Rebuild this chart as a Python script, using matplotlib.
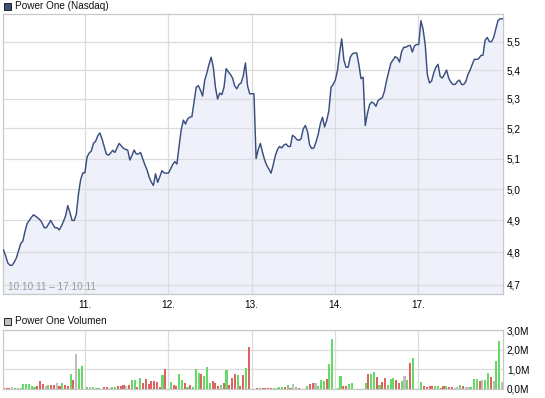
import numpy as np
import matplotlib
matplotlib.use("Agg")
import matplotlib.pyplot as plt
from matplotlib.patches import Rectangle
from matplotlib.ticker import FixedLocator, FuncFormatter, NullLocator

# ---------------- data ----------------
title_price = "Power One (Nasdaq)"
title_volume = "Power One Volumen"
date_range = "10.10.11 – 17.10.11"
day_labels = ["11.", "12.", "13.", "14.", "17."]
price_ticks = [4.7, 4.8, 4.9, 5.0, 5.1, 5.2, 5.3, 5.4, 5.5]
volume_ticks = [0, 1, 2, 3]  # millions

price_day1 = [4.807, 4.788, 4.767, 4.760, 4.760, 4.770, 4.783, 4.805, 4.827, 4.835,
              4.865, 4.890, 4.900, 4.910, 4.918, 4.913, 4.908, 4.902, 4.892, 4.877,
              4.877, 4.888, 4.900, 4.888, 4.877, 4.877, 4.870, 4.882, 4.897, 4.915,
              4.947, 4.925, 4.900, 4.900, 4.920, 4.985, 5.030, 5.053, 5.053]
price_day2 = [5.105, 5.118, 5.125, 5.150, 5.157, 5.175, 5.185, 5.165, 5.140, 5.115,
              5.111, 5.118, 5.127, 5.120, 5.135, 5.150, 5.142, 5.134, 5.130, 5.128,
              5.095, 5.110, 5.128, 5.115, 5.115, 5.120, 5.100, 5.080, 5.063, 5.040,
              5.023, 5.012, 5.050, 5.022, 5.040, 5.060, 5.053, 5.052, 5.052]
price_day3 = [5.065, 5.080, 5.090, 5.082, 5.140, 5.195, 5.228, 5.215, 5.232, 5.238,
              5.240, 5.290, 5.340, 5.346, 5.330, 5.310, 5.365, 5.390, 5.420, 5.445,
              5.410, 5.340, 5.300, 5.320, 5.315, 5.340, 5.405, 5.394, 5.385, 5.372,
              5.345, 5.335, 5.350, 5.355, 5.380, 5.425, 5.345, 5.318, 5.318]
price_day4 = [5.318, 5.100, 5.130, 5.150, 5.120, 5.095, 5.077, 5.065, 5.052, 5.080,
              5.110, 5.130, 5.140, 5.135, 5.145, 5.148, 5.140, 5.140, 5.177, 5.172,
              5.163, 5.160, 5.165, 5.198, 5.210, 5.190, 5.145, 5.133, 5.135, 5.155,
              5.180, 5.215, 5.238, 5.205, 5.227, 5.260, 5.340, 5.350, 5.365]
price_day5 = [5.398, 5.460, 5.510, 5.435, 5.410, 5.410, 5.445, 5.457, 5.460, 5.460,
              5.420, 5.370, 5.375, 5.210, 5.250, 5.280, 5.290, 5.285, 5.275, 5.295,
              5.300, 5.305, 5.328, 5.365, 5.395, 5.425, 5.435, 5.447, 5.442, 5.428,
              5.465, 5.480, 5.480, 5.485, 5.487, 5.463, 5.485, 5.490, 5.490]
price_day6 = [5.575, 5.545, 5.490, 5.385, 5.355, 5.362, 5.390, 5.410, 5.420, 5.378,
              5.372, 5.385, 5.400, 5.372, 5.358, 5.350, 5.350, 5.360, 5.365, 5.350,
              5.350, 5.360, 5.385, 5.400, 5.420, 5.438, 5.437, 5.440, 5.451, 5.452,
              5.505, 5.515, 5.500, 5.500, 5.515, 5.545, 5.575, 5.582, 5.582]

# volume in millions, direction: g = up, r = down, n = unchanged
vol_day1 = [.07, .07, .07, .10, .06, .06, .06, .25, .25, .25, .15, .12, .15, .42, .25,
            .15, .20, .20, .20, .30, .15, .30, .18, .15, .75, .45, 1.78, 1.00, 1.15, 0]
dir_day1 = "rrrngggggg" "ggrrrngrrn" "rgrrgrnggn"
vol_day2 = [.12, .12, .12, .06, .06, 0, .10, .10, .05, .10, .10, .13, .17, .20, .15,
            .20, .45, .45, .10, .55, .30, .50, .25, .40, .40, .35, .12, .70, 1.00, 0]
dir_day2 = "gngggnrrng" "grrrnrggrg" "rrrrrrrgrn"
vol_day3 = [.35, .20, .15, .75, .45, .30, .12, .20, .10, 1.00, .80, .75, .65, 1.10, .30,
            .40, .30, .15, .20, .30, .95, .20, .55, .75, .70, .15, .70, 1.05, 2.15, 0]
dir_day3 = "grrggrgrgg" "grgggrrrgr" "grrrgrrgrn"
vol_day4 = [0, .05, .05, .05, .05, .05, .05, .05, .05, .10, .10, .10, .20, .05, .25,
            .10, .05, 0, 0, .15, .25, .30, .30, .15, .45, .40, .50, 1.26, 2.53, 0]
dir_day4 = "nrgrrrrggg" "grgrngrnng" "rrngggrggn"
vol_day5 = [.05, .65, .15, .15, .25, .30, 0, 0, 0, 0, .30, .75, .75, .88, .60,
            .20, .35, .55, .18, .50, .55, .45, .30, .40, .65, .45, 1.30, 1.58, 0, 0]
dir_day5 = "ggrrggnnnn" "grggrgrrgg" "grrgngrgnn"
vol_day6 = [.35, .15, .10, .15, .15, .15, .15, .05, .15, .15, .10, .10, .05, .10, .20,
            .15, .10, .10, .10, .50, .50, .40, .45, .45, .80, .60, .40, 1.40, 2.45, .35]
dir_day6 = "grrrrggrrg" "rrnngrnngg" "grnggrnggn"

# ---------------- assemble ----------------
price = np.array(price_day1 + price_day2 + price_day3 + price_day4 + price_day5 + price_day6)
vols = np.array(vol_day1 + vol_day2 + vol_day3 + vol_day4 + vol_day5 + vol_day6)
dirs = dir_day1 + dir_day2 + dir_day3 + dir_day4 + dir_day5 + dir_day6

n_days = 6
pts_per_day = len(price_day1)
bars_per_day = len(vol_day1)
xp = (np.arange(len(price)) + 0.5) / pts_per_day
xv = (np.arange(len(vols)) + 0.5) / bars_per_day
day_lines = np.arange(1, n_days) - 0.5 / bars_per_day

# ---------------- style ----------------
plt.rcParams['font.family'] = ['Liberation Sans', 'DejaVu Sans']
plt.rcParams['font.size'] = 7.2

LINE = '#3a4f80'
FILL = '#eef1fa'
GRID = '#dcdcdc'
BORDER = '#c8c8c8'
COLMAP = {'g': '#66d966', 'r': '#dd6262', 'n': '#bdbdbd'}

W, H = 545, 398
fig = plt.figure(figsize=(W / 100, H / 100), dpi=100)


def fx(px):
    return px / W


def fy(py):
    return 1 - py / H


ax_p = fig.add_axes([fx(2.5), fy(293.5), fx(503.3) - fx(2.5), fy(13.5) - fy(293.5)])
ax_v = fig.add_axes([fx(2.5), fy(389), fx(503.3) - fx(2.5), fy(330) - fy(389)])

# price panel
ymin, ymax = 4.674, 5.601
ax_p.set_yscale('log')
ax_p.fill_between(xp, price, ymin, color=FILL, lw=0, zorder=0.5)
ax_p.plot(xp, price, color=LINE, lw=1.05, zorder=3)
ax_p.set_ylim(ymin, ymax)
ax_p.set_xlim(0, n_days)
ax_p.yaxis.set_major_locator(FixedLocator(price_ticks))
ax_p.yaxis.set_minor_locator(NullLocator())
ax_p.yaxis.set_major_formatter(FuncFormatter(lambda v, _: f"{v:.1f}".replace('.', ',')))
ax_p.yaxis.tick_right()
ax_p.set_xticks(day_lines)
ax_p.set_xticklabels(day_labels)
ax_p.tick_params(axis='y', length=0, pad=2.5, labelsize=7.2)
ax_p.tick_params(axis='x', length=0, pad=4.5, labelsize=7.2)
ax_p.grid(True, color=GRID, lw=0.9)
ax_p.set_axisbelow('line')
for s in ax_p.spines.values():
    s.set_color(BORDER)
    s.set_linewidth(0.9)

# volume panel
ax_v.bar(xv, vols, width=0.75 / bars_per_day, color=[COLMAP[d] for d in dirs],
         lw=0, zorder=2, antialiased=False)
ax_v.set_ylim(0, 3)
ax_v.set_xlim(0, n_days)
ax_v.set_yticks(volume_ticks)
ax_v.set_yticklabels([f"{v:.1f}".replace('.', ',') + "M" for v in volume_ticks])
ax_v.yaxis.tick_right()
ax_v.set_xticks(day_lines)
ax_v.set_xticklabels([])
ax_v.tick_params(axis='y', length=0, pad=2.5, labelsize=7.2)
ax_v.tick_params(axis='x', length=0)
ax_v.grid(True, color=GRID, lw=0.9)
ax_v.set_axisbelow(True)
for s in ax_v.spines.values():
    s.set_color(BORDER)
    s.set_linewidth(0.9)

# titles with legend squares
fig.add_artist(Rectangle((fx(3.5), fy(10)), fx(7), 7 / H, transform=fig.transFigure,
                         facecolor='#3c5078', edgecolor='#222222', lw=0.7))
fig.text(fx(15), fy(6), title_price, ha='left', va='center', fontsize=7.2, color='#111111')
fig.add_artist(Rectangle((fx(3.5), fy(325)), fx(7), 7 / H, transform=fig.transFigure,
                         facecolor='#c0c0c0', edgecolor='#222222', lw=0.7))
fig.text(fx(15), fy(321), title_volume, ha='left', va='center', fontsize=7.2, color='#111111')

# date range inside the price panel
fig.text(fx(7.5), fy(286.5), date_range, ha='left', va='center', fontsize=7.2, color='#999999')

fig.savefig("out.png", dpi=100)
